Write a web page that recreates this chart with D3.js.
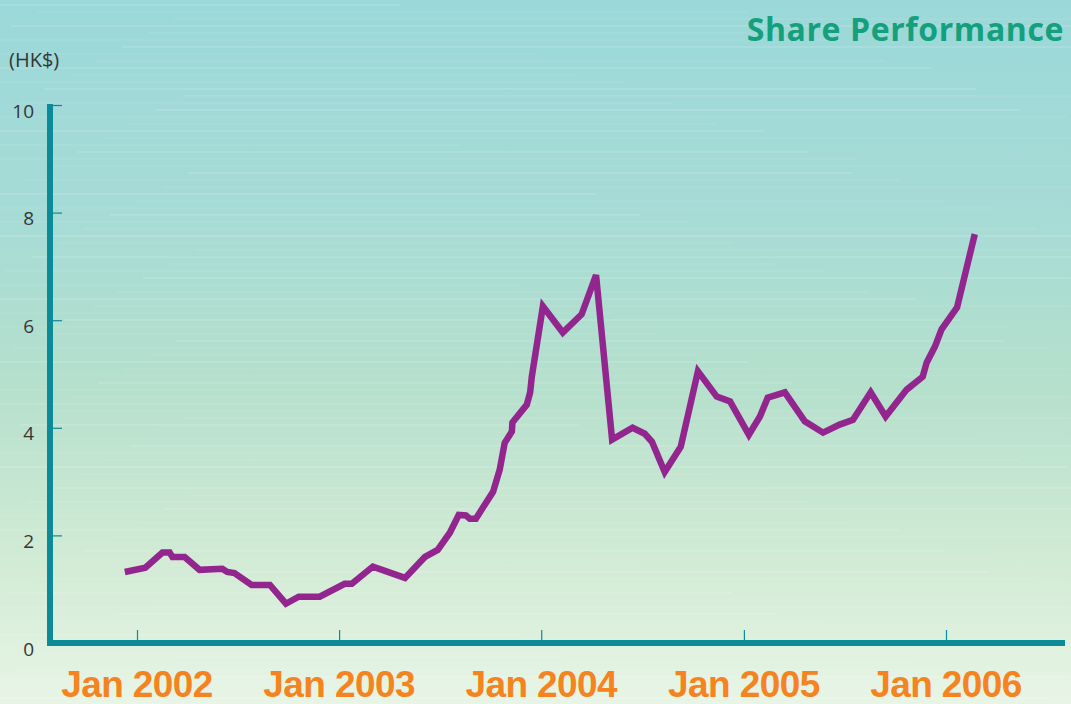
<!DOCTYPE html>
<html>
<head>
<meta charset="utf-8">
<script src="https://cdn.jsdelivr.net/npm/d3@7"></script>
<style>
  body { margin: 0; background: #e8f5e6; }
  svg { display: block; }
  .ylab { font-family: "Open Sans", "Noto Sans", sans-serif; font-size: 19px; fill: #363636; }
  .xlab { font-family: "Liberation Sans", Arial, sans-serif; font-weight: bold; font-size: 37px; fill: #f58420; letter-spacing: -0.6px; }
  .title { font-family: "Open Sans", "Noto Sans", sans-serif; font-weight: bold; font-size: 32px; fill: #14a07c; letter-spacing: 0.6px; }
</style>
</head>
<body>
<svg id="chart"></svg>
<script>
// share price (HK$)
var dates = [
  "2001-12-10", "2002-01-16", "2002-02-16", "2002-03-01", "2002-03-06", "2002-03-28",
  "2002-04-24", "2002-06-04", "2002-06-13", "2002-06-26", "2002-07-27", "2002-08-29",
  "2002-09-27", "2002-10-20", "2002-11-27", "2003-01-11", "2003-01-24", "2003-03-03",
  "2003-04-30", "2003-06-05", "2003-06-28", "2003-07-20", "2003-08-05", "2003-08-18",
  "2003-08-25", "2003-09-05", "2003-09-21", "2003-10-06", "2003-10-18", "2003-10-27",
  "2003-11-09", "2003-11-10", "2003-12-06", "2003-12-12", "2003-12-15", "2004-01-04",
  "2004-02-09", "2004-03-14", "2004-04-09", "2004-05-08", "2004-06-14", "2004-07-06",
  "2004-07-19", "2004-08-11", "2004-09-09", "2004-10-10", "2004-11-13", "2004-12-07",
  "2005-01-10", "2005-01-30", "2005-02-13", "2005-03-16", "2005-04-21", "2005-05-24",
  "2005-06-23", "2005-07-17", "2005-08-18", "2005-09-14", "2005-10-22", "2005-11-20",
  "2005-11-27", "2005-12-12", "2005-12-24", "2006-01-21", "2006-02-22"
];
var prices = [
  1.32, 1.40, 1.68, 1.68, 1.60, 1.60,
  1.36, 1.38, 1.32, 1.30, 1.08, 1.08,
  0.73, 0.86, 0.86, 1.10, 1.10, 1.42,
  1.21, 1.60, 1.73, 2.05, 2.38, 2.37,
  2.31, 2.31, 2.57, 2.81, 3.22, 3.72,
  3.93, 4.10, 4.43, 4.66, 4.95, 6.26,
  5.77, 6.11, 6.84, 3.78, 4.00, 3.89,
  3.74, 3.18, 3.65, 5.05, 4.58, 4.49,
  3.87, 4.21, 4.56, 4.66, 4.12, 3.91,
  4.06, 4.15, 4.66, 4.21, 4.71, 4.95,
  5.21, 5.51, 5.83, 6.24, 7.60
];
var yTicks = [0, 2, 4, 6, 8, 10];
var xTicks = ["2002-01-01", "2003-01-01", "2004-01-01", "2005-01-01", "2006-01-01"];
var xTickLabels = ["Jan 2002", "Jan 2003", "Jan 2004", "Jan 2005", "Jan 2006"];

var W = 1071, H = 704;
var parse = d3.timeParse("%Y-%m-%d");

var data = dates.map(function(d, i) { return {date: parse(d), price: prices[i]}; });

var svg = d3.select("#chart")
    .attr("width", W)
    .attr("height", H);

// background wash
var defs = svg.append("defs");
var grad = defs.append("linearGradient")
    .attr("id", "bg")
    .attr("x1", 0).attr("y1", 0).attr("x2", 0).attr("y2", 1);
[[0, "#9bd8d9"], [0.3, "#a6dbd6"], [0.55, "#b5e0cc"], [0.8, "#d2ebd5"], [1, "#e8f5e6"]].forEach(function(s) {
  grad.append("stop").attr("offset", s[0]).attr("stop-color", s[1]);
});
svg.append("rect")
    .attr("width", W).attr("height", H)
    .attr("fill", "url(#bg)");

// faint horizontal streaks
svg.append("g").selectAll("rect")
    .data(d3.range(4, H, 7))
  .enter().append("rect")
    .attr("x", function(d, i) { return (i * 137) % 300 - 100; })
    .attr("y", function(d) { return d; })
    .attr("width", function(d, i) { return 500 + (i * 211) % 700; })
    .attr("height", 2)
    .attr("fill", "#ffffff")
    .attr("opacity", function(d, i) { return i % 3 === 0 ? 0.12 : 0.06; });

var x = d3.scaleTime()
    .domain([parse(xTicks[0]), parse(xTicks[4])])
    .range([137, 946]);

var y = d3.scaleLinear()
    .domain([0, 10])
    .range([643, 105]);

var axisColor = "#0b8a98";

// y ticks (inward) and labels
var yAxis = d3.axisRight(y)
    .tickValues(yTicks)
    .tickSize(12)
    .tickFormat("");

svg.append("g")
    .attr("transform", "translate(50,0)")
    .call(yAxis)
    .call(function(g) { g.select(".domain").remove(); })
    .selectAll("line")
    .attr("stroke", axisColor)
    .attr("stroke-width", 1.2);

svg.append("g").selectAll("text")
    .data(yTicks)
  .enter().append("text")
    .attr("class", "ylab")
    .attr("x", 34)
    .attr("y", function(d) { return y(d) + 6; })
    .attr("dy", "0.35em")
    .attr("text-anchor", "end")
    .text(function(d) { return d; });

// x ticks (inward) and labels
var xAxis = d3.axisTop(x)
    .tickValues(xTicks.map(parse))
    .tickSize(13)
    .tickFormat("");

svg.append("g")
    .attr("transform", "translate(0,643)")
    .call(xAxis)
    .call(function(g) { g.select(".domain").remove(); })
    .selectAll("line")
    .attr("stroke", axisColor)
    .attr("stroke-width", 1.2);

svg.append("g").selectAll("text")
    .data(xTicks)
  .enter().append("text")
    .attr("class", "xlab")
    .attr("x", function(d) { return x(parse(d)); })
    .attr("y", 697)
    .attr("text-anchor", "middle")
    .text(function(d, i) { return xTickLabels[i]; });

// thick axis lines
svg.append("line")
    .attr("x1", 50).attr("x2", 50)
    .attr("y1", 104).attr("y2", 646)
    .attr("stroke", axisColor)
    .attr("stroke-width", 6);

svg.append("line")
    .attr("x1", 47).attr("x2", 1065)
    .attr("y1", 643).attr("y2", 643)
    .attr("stroke", axisColor)
    .attr("stroke-width", 6);

// price line
var valueLine = d3.line()
    .x(function(d) { return x(d.date); })
    .y(function(d) { return y(d.price); });

svg.append("path")
    .datum(data)
    .attr("d", valueLine)
    .attr("fill", "none")
    .attr("stroke", "#92268e")
    .attr("stroke-width", 6.5)
    .attr("stroke-linejoin", "miter")
    .attr("stroke-miterlimit", 3);

// captions
svg.append("text")
    .attr("class", "ylab")
    .attr("x", 9)
    .attr("y", 67)
    .style("font-size", "20px")
    .text("(HK$)");

svg.append("text")
    .attr("class", "title")
    .attr("x", 1064)
    .attr("y", 41)
    .attr("text-anchor", "end")
    .text("Share Performance");
</script>
</body>
</html>
